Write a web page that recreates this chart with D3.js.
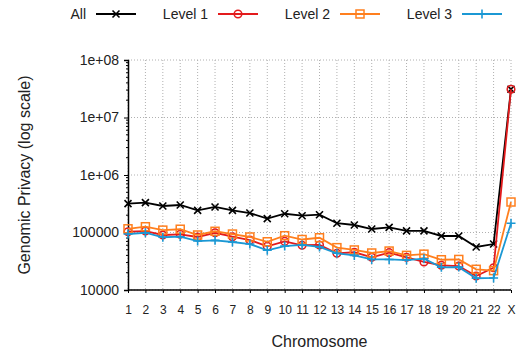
<!DOCTYPE html>
<html>
<head>
<meta charset="utf-8">
<script src="https://cdn.jsdelivr.net/npm/d3@7"></script>
<style>
body { margin: 0; background: #fff; }
text { font-family: "Liberation Sans", Arial, sans-serif; }
</style>
</head>
<body>
<script>
var chromosomes = ["1","2","3","4","5","6","7","8","9","10","11","12","13","14","15","16","17","18","19","20","21","22","X"];
var allVals = [317000, 330000, 289000, 301000, 243000, 278000, 243000, 218000, 174000, 212000, 196000, 204000, 145000, 135000, 115000, 123000, 107000, 107000, 87000, 87000, 56000, 63000, 31000000];
var level1 = [103000, 106000, 90500, 93000, 83500, 99000, 84500, 74000, 57500, 70000, 60000, 60700, 43500, 45300, 37000, 44600, 37000, 30700, 26900, 26100, 17500, 24400, 31000000];
var level2 = [116000, 126000, 110000, 114000, 90500, 105000, 94000, 83500, 69000, 88000, 75500, 81000, 54500, 49700, 44000, 47600, 40000, 42000, 33600, 34000, 22900, 21700, 339000];
var level3 = [94000, 99000, 82600, 84500, 71000, 73000, 68400, 63000, 49000, 58000, 60700, 56000, 43500, 40000, 34000, 34000, 33200, 35000, 24800, 25000, 16000, 16200, 145000];
var yTicks = [1e4, 1e5, 1e6, 1e7, 1e8];
var yTickLabels = ["10000", "100000", "1e+06", "1e+07", "1e+08"];

var series = [
	{name: "All", vals: allVals, color: "#000000", marker: "x"},
	{name: "Level 1", vals: level1, color: "#e31a1c", marker: "circle"},
	{name: "Level 2", vals: level2, color: "#ff7f1e", marker: "square"},
	{name: "Level 3", vals: level3, color: "#1b98d4", marker: "plus"}
];

var w = 516, h = 356;
var pLeft = 128, pRight = 511, pTop = 60, pBottom = 290;

var svg = d3.select("body").append("svg")
	.attr("width", w)
	.attr("height", h);

var x = d3.scalePoint().domain(chromosomes).range([pLeft, pRight]).padding(0);
var y = d3.scaleLog().domain([1e4, 1e8]).range([pBottom, pTop]);

// grid
svg.append("g").selectAll("line")
	.data(chromosomes)
	.enter().append("line")
	.attr("x1", function(d) { return x(d); })
	.attr("x2", function(d) { return x(d); })
	.attr("y1", pTop).attr("y2", pBottom)
	.attr("stroke", "#b0b0b0")
	.attr("stroke-width", 1)
	.attr("stroke-dasharray", "1,2");
svg.append("g").selectAll("line")
	.data(yTicks)
	.enter().append("line")
	.attr("x1", pLeft).attr("x2", pRight)
	.attr("y1", function(d) { return y(d); })
	.attr("y2", function(d) { return y(d); })
	.attr("stroke", "#b0b0b0")
	.attr("stroke-width", 1)
	.attr("stroke-dasharray", "1,2");

// y axis
var yAxis = d3.axisLeft(y)
	.tickValues(yTicks)
	.tickFormat(function(d, i) { return yTickLabels[i]; })
	.tickSize(4).tickPadding(5);
var gy = svg.append("g").attr("transform", "translate(" + pLeft + ",0)").call(yAxis);
gy.select(".domain").attr("stroke-width", 1.5);
gy.selectAll("text").attr("font-size", "14px").attr("fill", "#222").style("font-family", "Liberation Sans, Arial, sans-serif");

// minor ticks
var minor = [];
for (var e = 4; e < 8; e++) {
	for (var m = 2; m < 10; m++) minor.push(m * Math.pow(10, e));
}
svg.append("g").selectAll("line")
	.data(minor)
	.enter().append("line")
	.attr("x1", pLeft - 2).attr("x2", pLeft)
	.attr("y1", function(d) { return y(d); })
	.attr("y2", function(d) { return y(d); })
	.attr("stroke", "#000");

// x axis
var xAxis = d3.axisBottom(x).tickSize(3).tickPadding(12);
var gx = svg.append("g").attr("transform", "translate(0," + pBottom + ")").call(xAxis);
gx.select(".domain").attr("stroke-width", 1.5).attr("d", "M" + pLeft + ",0H" + pRight);
gx.selectAll("text").attr("font-size", "12px").attr("fill", "#222").style("font-family", "Liberation Sans, Arial, sans-serif");

// axis titles
svg.append("text")
	.attr("x", (pLeft + pRight) / 2)
	.attr("y", 347)
	.attr("text-anchor", "middle")
	.attr("font-size", "16px")
	.attr("fill", "#222")
	.text("Chromosome");
svg.append("text")
	.attr("transform", "translate(30," + ((pTop + pBottom) / 2) + ") rotate(-90)")
	.attr("text-anchor", "middle")
	.attr("font-size", "16px")
	.attr("fill", "#222")
	.text("Genomic Privacy (log scale)");

function drawMarker(g, type, color) {
	if (type == "x") {
		g.append("path").attr("d", "M-3.5,-3.5L3.5,3.5M-3.5,3.5L3.5,-3.5")
			.attr("stroke", color).attr("stroke-width", 1.6).attr("fill", "none");
	} else if (type == "circle") {
		g.append("circle").attr("r", 3.8)
			.attr("stroke", color).attr("stroke-width", 1.5).attr("fill", "none");
	} else if (type == "square") {
		g.append("rect").attr("x", -4).attr("y", -4).attr("width", 8).attr("height", 8)
			.attr("stroke", color).attr("stroke-width", 1.5).attr("fill", "none");
	} else {
		g.append("path").attr("d", "M-4.5,0H4.5M0,-4.5V4.5")
			.attr("stroke", color).attr("stroke-width", 1.6).attr("fill", "none");
	}
}

var line = d3.line()
	.x(function(d, i) { return x(chromosomes[i]); })
	.y(function(d) { return y(d); });

series.forEach(function(s) {
	svg.append("path")
		.datum(s.vals)
		.attr("d", line)
		.attr("fill", "none")
		.attr("stroke", s.color)
		.attr("stroke-width", 1.8);
	s.vals.forEach(function(v, i) {
		var g = svg.append("g").attr("transform", "translate(" + x(chromosomes[i]) + "," + y(v) + ")");
		drawMarker(g, s.marker, s.color);
	});
});

// legend
var legendX = [86, 208, 330, 452];
series.forEach(function(s, i) {
	var lx = legendX[i];
	svg.append("text")
		.attr("x", lx).attr("y", 19)
		.attr("text-anchor", "end")
		.attr("font-size", "14px")
		.attr("fill", "#222")
		.text(s.name);
	svg.append("line")
		.attr("x1", lx + 10).attr("x2", lx + 50)
		.attr("y1", 14).attr("y2", 14)
		.attr("stroke", s.color).attr("stroke-width", 1.8);
	var g = svg.append("g").attr("transform", "translate(" + (lx + 30) + ",14)");
	drawMarker(g, s.marker, s.color);
});
</script>
</body>
</html>
